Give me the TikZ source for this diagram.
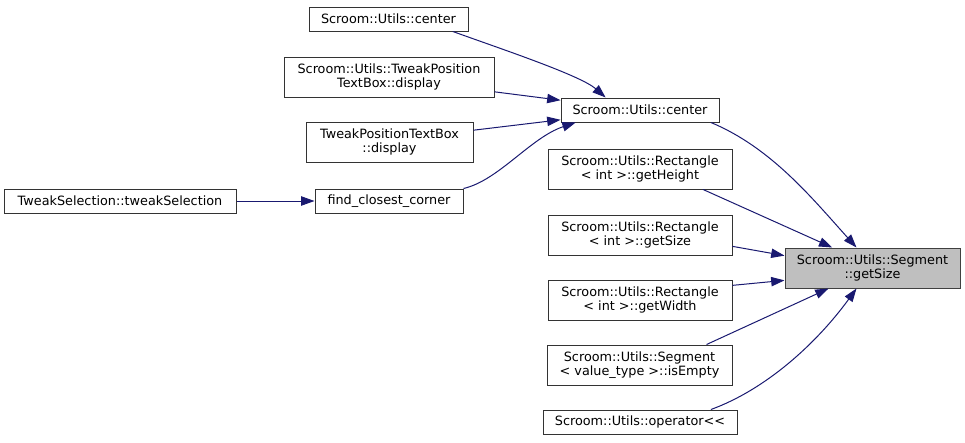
\documentclass[tikz,border=0pt]{standalone}
\usepackage{fontspec}
\setmainfont{DejaVu Sans}
\usetikzlibrary{arrows.meta}
\definecolor{calledge}{HTML}{191970}
\definecolor{focusfill}{HTML}{BFBFBF}
\begin{document}
\begin{tikzpicture}[x=0.75pt,y=-0.75pt,
    fn/.style={draw=black!80, fill=white, line width=0.75pt, inner sep=0pt,
        align=center, minimum height=18pt,
        font=\fontsize{9.6}{10.7}\selectfont},
    fntwo/.style={fn, minimum height=30pt},
    call/.style={draw=calledge, line width=0.75pt,
        -{Triangle[length=10pt,width=7pt]}, fill=none}]
    \useasboundingbox (0,0) rectangle (965,443);
    % callers, far left
    \node[fn, minimum width=174pt] (tweaksel) at (120,201) {TweakSelection::tweakSelection};
    \node[fn, minimum width=111pt] (closest) at (389,201) {find\_closest\_corner};
    \node[fn, minimum width=119.25pt] (centerA) at (388.5,19) {Scroom::Utils::center};
    \node[fntwo, minimum width=157.5pt] (textboxA) at (389,77) {Scroom::Utils::TweakPosition\\TextBox::display};
    \node[fntwo, minimum width=125.25pt] (textboxB) at (389.5,142) {TweakPositionTextBox\\::display};
    % middle column
    \node[fn, minimum width=118.5pt] (centerB) at (640,110) {Scroom::Utils::center};
    \node[fntwo, minimum width=138pt] (height) at (640,169) {Scroom::Utils::Rectangle\\< int >::getHeight};
    \node[fntwo, minimum width=138pt] (size) at (640,235) {Scroom::Utils::Rectangle\\< int >::getSize};
    \node[fntwo, minimum width=138pt] (width) at (640,300) {Scroom::Utils::Rectangle\\< int >::getWidth};
    \node[fntwo, minimum width=138.75pt] (empty) at (639.5,365) {Scroom::Utils::Segment\\< value\_type >::isEmpty};
    \node[fn, minimum width=145.5pt] (oper) at (640,422) {Scroom::Utils::operator<{}<};
    % the function itself
    \node[fntwo, minimum width=131.25pt, fill=focusfill, draw=black!75] (segsize) at (872.5,268) {Scroom::Utils::Segment\\::getSize};
    % calls
    \draw[call] (tweaksel) -- (closest);
    \draw[call] (closest.north east) .. controls +(35,-8) and +(-45,15) .. (centerB.191);
    \draw[call] (centerA.-11) .. controls +(50,18) and +(-25,-22) .. (centerB.160);
    \draw[call] (textboxA.-8) -- (centerB.173);
    \draw[call] (textboxB.8) -- (centerB.187);
    \draw[call] (centerB.-10) .. controls +(60,25) and +(-45,-50) .. (segsize.128);
    \draw[call] (height.-18) -- (segsize.153);
    \draw[call] (size.-7) -- (segsize.172);
    \draw[call] (width.9) -- (segsize.188);
    \draw[call] (empty.17) -- (segsize.205);
    \draw[call] (oper.10) .. controls +(55,-20) and +(-40,55) .. (segsize.232);
\end{tikzpicture}
\end{document}
